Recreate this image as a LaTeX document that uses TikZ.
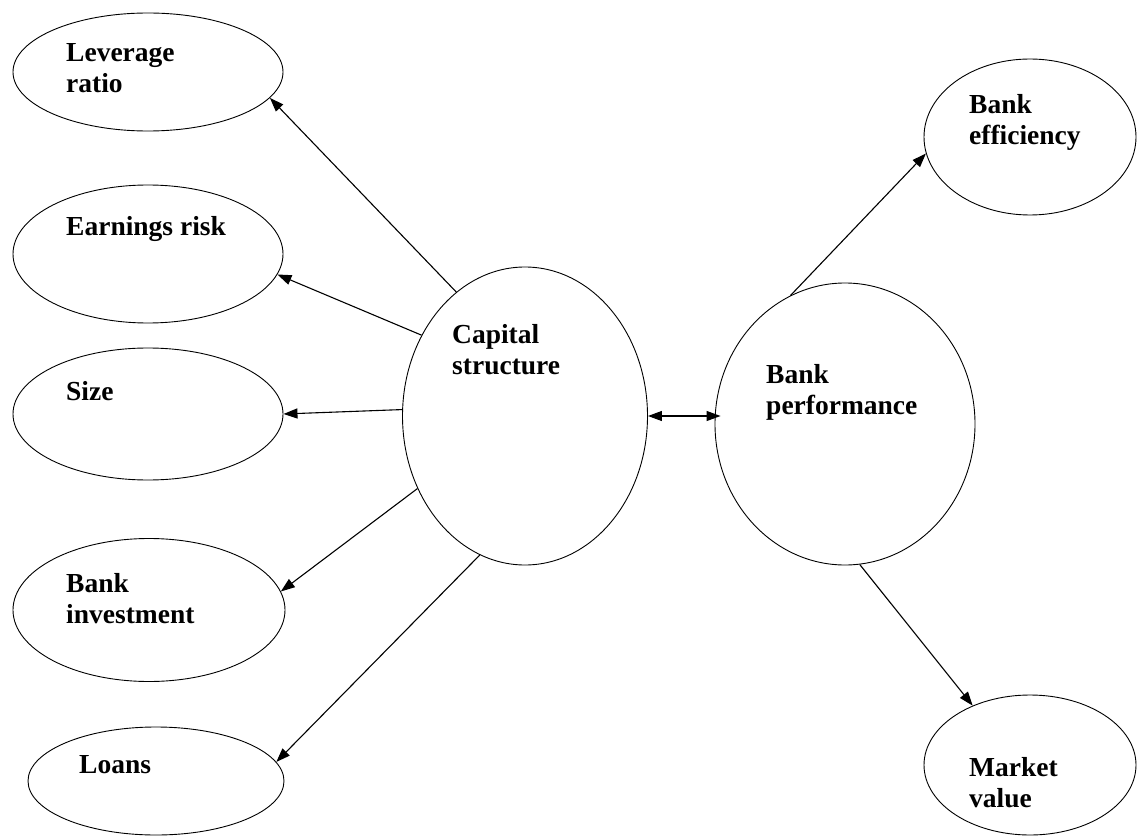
\documentclass[tikz,border=0pt]{standalone}
\usepackage{fontspec}
\setmainfont{Liberation Serif}
\usetikzlibrary{shapes.geometric,arrows.meta}

\begin{document}
\begin{tikzpicture}[x=1pt,y=-1pt,
  bubble/.style={draw, ellipse, inner sep=0pt, line width=0.9pt},
  lbl/.style={anchor=base west, inner sep=0pt, align=left, font=\fontsize{27.5}{31}\selectfont\bfseries},
  arr/.style={-{Triangle[length=14pt,width=10pt]}, line width=1.1pt}]
  \useasboundingbox (0,0) rectangle (1137,837);

  % Draw the ellipses
  \node[bubble, minimum width=270pt, minimum height=118pt] (lev) at (148,72) {};
  \node[bubble, minimum width=270pt, minimum height=138pt] (earn) at (148,254) {};
  \node[bubble, minimum width=270pt, minimum height=132pt] (size) at (148,414) {};
  \node[bubble, minimum width=272pt, minimum height=143pt] (inv) at (149,610) {};
  \node[bubble, minimum width=256pt, minimum height=108pt] (loan) at (156,781) {};
  \node[bubble, minimum width=245pt, minimum height=298pt] (cap) at (525,416) {};
  \node[bubble, minimum width=260pt, minimum height=282pt] (perf) at (845,424) {};
  \node[bubble, minimum width=212pt, minimum height=156pt] (eff) at (1030,137) {};
  \node[bubble, minimum width=212pt, minimum height=140pt] (mkt) at (1030,765) {};

  % Put in the labels (two-line labels sit on their last baseline)
  \node[lbl] (levtxt) at (66,93) {Leverage\\ratio};
  \node[lbl] (earntxt) at (66,235) {Earnings risk};
  \node[lbl] (sizetxt) at (66,400) {Size};
  \node[lbl] (invtxt) at (66,623) {Bank\\investment};
  \node[lbl] (loantxt) at (79,773) {Loans};
  \node[lbl] (captxt) at (452,374) {Capital\\structure};
  \node[lbl] (perftxt) at (766,414) {Bank\\performance};
  \node[lbl] (efftxt) at (969,145) {Bank\\efficiency};
  \node[lbl] (mkttxt) at (969,807) {Market\\value};

  % Draw the arrows
  \draw[arr] (cap.119) -- (lev.348);
  \draw[arr] (cap.142) -- (earn.351);
  \draw[arr] (cap.177) -- (size.0);
  \draw[arr] (cap.214) -- (inv.8);
  \draw[arr] (cap.252) -- (loan.9);
  \draw[arr] (perf.113) -- (eff.189);
  \draw[arr] (perf.276) -- (mkt.134);
  \draw[arr, {Triangle[length=14pt,width=10pt]}-{Triangle[length=14pt,width=10pt]}] (cap.east) -- ([xshift=6pt]cap.east -| perf.west);
\end{tikzpicture}
\end{document}
